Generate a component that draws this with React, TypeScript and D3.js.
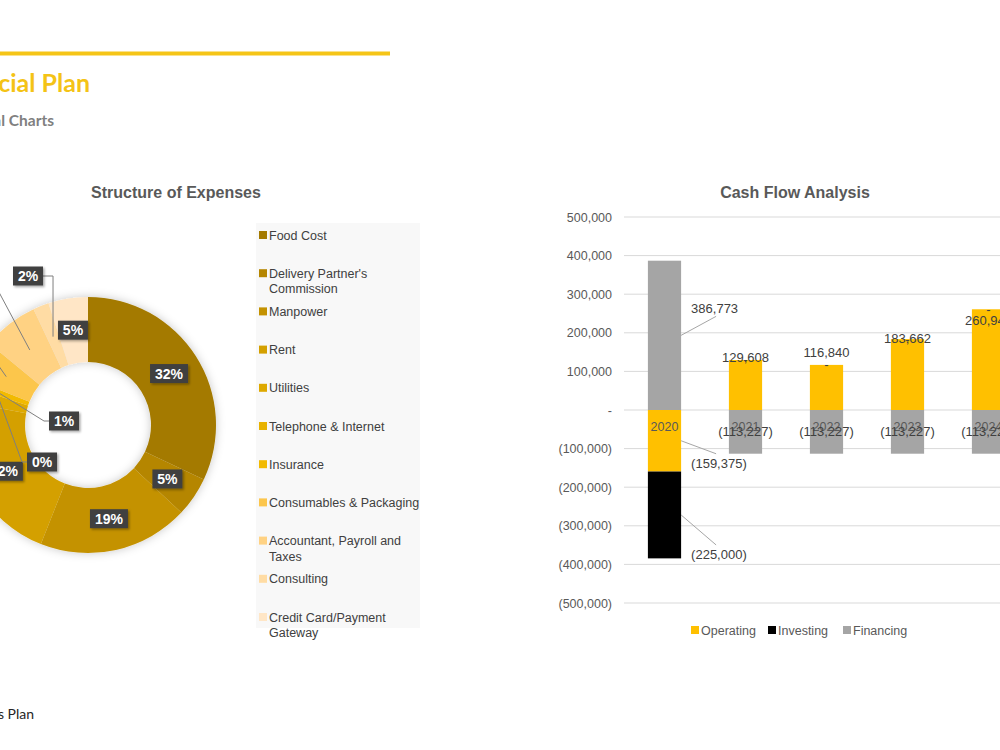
import React from "react";
import * as d3 from "d3";

// ---- Structure of Expenses (share of total, %) ----
const expenseCategories = [
  "Food Cost",
  "Delivery Partner's Commission",
  "Manpower",
  "Rent",
  "Utilities",
  "Telephone & Internet",
  "Insurance",
  "Consumables & Packaging",
  "Accountant, Payroll and Taxes",
  "Consulting",
  "Credit Card/Payment Gateway",
];
const expenseShares = [32, 5, 19, 22, 2, 0, 1, 5, 7, 2, 5];
const expenseColors = [
  "#A47A00", "#B58600", "#C49200", "#D4A000", "#DEA900", "#E8B200",
  "#F2BA00", "#FCC64C", "#FFD283", "#FFDCA4", "#FFE6C6",
];

// ---- Cash Flow Analysis ----
const years = ["2020", "2021", "2022", "2023", "2024"];
const operating = [-159375, 129608, 116840, 183662, 260945];
const investing = [-225000, 0, 0, 0, 0];
const financing = [386773, -113227, -113227, -113227, -113227];
const cashTicks = [500000, 400000, 300000, 200000, 100000, 0, -100000, -200000, -300000, -400000, -500000];

const seriesNames = ["Operating", "Investing", "Financing"];
const seriesColors = ["#FFC000", "#000000", "#A5A5A5"];

const FONT = "'Liberation Sans', Arial, sans-serif";
const AXIS_GRAY = "#595959";

const fmtNum = d3.format(",");
const fmtCash = (v: number) => (v === 0 ? "-" : v < 0 ? `(${fmtNum(-v)})` : fmtNum(v));

// Greedy word wrap using canvas text metrics
function wrapText(text: string, maxWidth: number, font: string): string[] {
  const ctx = document.createElement("canvas").getContext("2d");
  if (!ctx) return [text];
  ctx.font = font;
  const words = text.split(" ");
  const lines: string[] = [];
  let cur = "";
  for (const w of words) {
    const test = cur ? cur + " " + w : w;
    if (ctx.measureText(test).width > maxWidth && cur) {
      lines.push(cur);
      cur = w;
    } else cur = test;
  }
  if (cur) lines.push(cur);
  return lines;
}

function Donut() {
  const cx = 88, cy = 425, r0 = 63, r1 = 128, rl = 96;
  const pie = d3.pie<number>().sort(null).value((d) => d).startAngle(0).endAngle(2 * Math.PI);
  const arcs = pie(expenseShares);
  const arc = d3.arc<d3.PieArcDatum<number>>().innerRadius(r0).outerRadius(r1);

  // Labels that are pulled out of thin slices, with their box centres
  const pulled: Record<number, [number, number]> = {
    4: [-32, 418],
    5: [42, 462],
    6: [64, 421],
    7: [-26, 352],
    8: [-30, 266],
    9: [28, 276],
  };

  const pt = (a: number, r: number): [number, number] => [cx + Math.sin(a) * r, cy - Math.cos(a) * r];

  return (
    <g>
      <g filter="url(#donutShadow)">
        {arcs.map((a, i) => (
          <path key={i} d={arc(a) || ""} transform={`translate(${cx},${cy})`} fill={expenseColors[i]} />
        ))}
      </g>
      {arcs.map((a, i) => {
        const mid = (a.startAngle + a.endAngle) / 2;
        const label = `${expenseShares[i]}%`;
        const w = label.length * 8 + 14;
        const h = 19;
        let bx: number, by: number;
        let leader: string | null = null;
        if (pulled[i]) {
          [bx, by] = pulled[i];
          const [ex, ey] = pt(mid, 95);
          if (i === 9) {
            const sx = bx + w / 2;
            leader = `M${sx},${by}L${ex},${by}L${ex},${ey}`;
          } else if (ex < bx - w / 2) {
            const sx = bx - w / 2;
            leader = `M${sx},${by}L${sx - 5},${by}L${ex},${ey}`;
          } else {
            const sx = bx + w / 2;
            leader = `M${sx},${by}L${ex},${ey}`;
          }
        } else {
          [bx, by] = pt(mid, rl);
        }
        return (
          <g key={"l" + i}>
            {leader && <path d={leader} fill="none" stroke="#7F7F7F" strokeWidth={1} />}
            <rect x={bx - w / 2} y={by - h / 2} width={w} height={h} fill="#404040" filter="url(#boxShadow)" />
            <text x={bx} y={by + 5} textAnchor="middle" fill="#FFFFFF" fontFamily={FONT} fontWeight="bold" fontSize={14}>
              {label}
            </text>
          </g>
        );
      })}
    </g>
  );
}

function DonutLegend() {
  const legFont = `12.5px ${FONT}`;
  const x0 = 259, y0 = 235, step = 38.2;
  return (
    <g>
      <rect x={256} y={223} width={164} height={405} fill="#F8F8F8" />
      {expenseCategories.map((c, i) => {
        const y = y0 + i * step;
        const lines = wrapText(c, 153, legFont);
        return (
          <g key={i}>
            <rect x={x0} y={y - 4} width={8} height={8} fill={expenseColors[i]} />
            <text x={x0 + 10} y={y + 4.5} fontFamily={FONT} fontSize={12.5} fill="#404040">
              {lines.map((ln, k) => (
                <tspan key={k} x={x0 + 10} dy={k === 0 ? 0 : 15.5}>
                  {ln}
                </tspan>
              ))}
            </text>
          </g>
        );
      })}
    </g>
  );
}

function CashFlow() {
  const left = 624, right = 1029;
  const y = d3.scaleLinear().domain([-500000, 500000]).range([603, 217]);
  const x = d3.scaleBand<string>().domain(years).range([left, right]).paddingInner(0.59).paddingOuter(0.295);
  const bw = x.bandwidth();
  const series = [operating, investing, financing];

  // Diverging stack: positives build upward, negatives downward, in series order
  type Seg = { s: number; i: number; y0: number; y1: number; v: number };
  const segs: Seg[] = [];
  years.forEach((_, i) => {
    let pos = 0, neg = 0;
    series.forEach((vals, s) => {
      const v = vals[i];
      if (v >= 0) {
        segs.push({ s, i, y0: pos, y1: pos + v, v });
        pos += v;
      } else {
        segs.push({ s, i, y0: neg + v, y1: neg, v });
        neg += v;
      }
    });
  });

  const operatingNudge = [0, -2, -12, -1, 11];
  // First-year labels sit beside the bar with leader lines: [dx from bar edge, dy from segment middle]
  const sideLabel: Record<number, [number, number]> = { 0: [10, 23], 1: [10, 40], 2: [10, -27] };

  return (
    <g fontFamily={FONT}>
      <text x={795} y={198} textAnchor="middle" fontSize={16} fontWeight="bold" fill={AXIS_GRAY}>
        Cash Flow Analysis
      </text>
      {cashTicks.map((t) => (
        <g key={t}>
          <line x1={left} x2={1000} y1={y(t)} y2={y(t)} stroke="#D9D9D9" strokeWidth={1} />
          <text x={612} y={y(t) + 4.5} textAnchor="end" fontSize={12.5} fill={AXIS_GRAY}>
            {fmtCash(t)}
          </text>
        </g>
      ))}
      {segs.map((g, k) => (
        <rect
          key={k}
          x={x(years[g.i])!}
          y={y(g.y1)}
          width={bw}
          height={Math.max(0, y(g.y0) - y(g.y1))}
          fill={seriesColors[g.s]}
        />
      ))}
      {years.map((yr) => (
        <text key={yr} x={x(yr)! + bw / 2} y={y(0) + 21} textAnchor="middle" fontSize={12.5} fill={AXIS_GRAY}>
          {yr}
        </text>
      ))}
      {segs.map((g, k) => {
        const bx = x(years[g.i])!;
        const cxm = bx + bw / 2;
        const midY = y((g.y0 + g.y1) / 2);
        if (g.i === 0 && sideLabel[g.s]) {
          const [dx, dy] = sideLabel[g.s];
          const lx = bx + bw + dx;
          const ly = midY + dy;
          const ey = dy > 0 ? ly - 10 : ly + 8;
          return (
            <g key={"t" + k}>
              <line x1={bx + bw} y1={midY} x2={lx + 25} y2={ey} stroke="#A6A6A6" strokeWidth={1} />
              <text x={lx} y={ly + 4.5} fontSize={13} fill="#404040">
                {fmtCash(g.v)}
              </text>
            </g>
          );
        }
        let ty = midY;
        if (g.s === 0) ty = y(g.y1) + operatingNudge[g.i];
        if (g.s === 1) ty = y(g.y1);
        return (
          <text key={"t" + k} x={cxm} y={ty + 4.5} textAnchor="middle" fontSize={13} fill="#404040">
            {fmtCash(g.v)}
          </text>
        );
      })}
      {/* legend */}
      {(() => {
        const xs = [691, 768, 843];
        return seriesNames.map((n, i) => (
          <g key={n}>
            <rect x={xs[i]} y={626} width={8} height={8} fill={seriesColors[i]} />
            <text x={xs[i] + 10} y={634.5} fontSize={12.5} fill={AXIS_GRAY}>
              {n}
            </text>
          </g>
        ));
      })()}
    </g>
  );
}

export default function App() {
  return (
    <svg
      width={1000}
      height={750}
      viewBox="0 0 1000 750"
      style={{ position: "absolute", left: 0, top: 0, background: "#FFFFFF" }}
    >
      <defs>
        <filter id="donutShadow" x="-30%" y="-30%" width="160%" height="160%">
          <feDropShadow dx={0} dy={0} stdDeviation={5} floodColor="#000000" floodOpacity={0.22} />
        </filter>
        <filter id="boxShadow" x="-30%" y="-30%" width="160%" height="160%">
          <feDropShadow dx={1.5} dy={1.5} stdDeviation={1.2} floodColor="#000000" floodOpacity={0.35} />
        </filter>
      </defs>
      <rect x={0} y={0} width={1000} height={750} fill="#FFFFFF" />

      {/* header */}
      <rect x={0} y={51.5} width={390} height={4} fill="#F5C518" />
      <text x={90} y={92} textAnchor="end" fontFamily="Lato, 'Open Sans', sans-serif" fontWeight="bold" fontSize={25} fill="#F4C316">
        Financial Plan
      </text>
      <text x={54} y={126} textAnchor="end" fontFamily="Lato, 'Open Sans', sans-serif" fontWeight="bold" fontSize={15.5} fill="#808080">
        Financial Charts
      </text>
      <text x={34} y={719} textAnchor="end" fontFamily="Lato, 'Open Sans', sans-serif" fontSize={14} fill="#262626">
        Business Plan
      </text>

      {/* expenses donut */}
      <text x={176} y={198} textAnchor="middle" fontFamily={FONT} fontSize={16} fontWeight="bold" fill={AXIS_GRAY}>
        Structure of Expenses
      </text>
      <DonutLegend />
      <Donut />

      <CashFlow />
    </svg>
  );
}
